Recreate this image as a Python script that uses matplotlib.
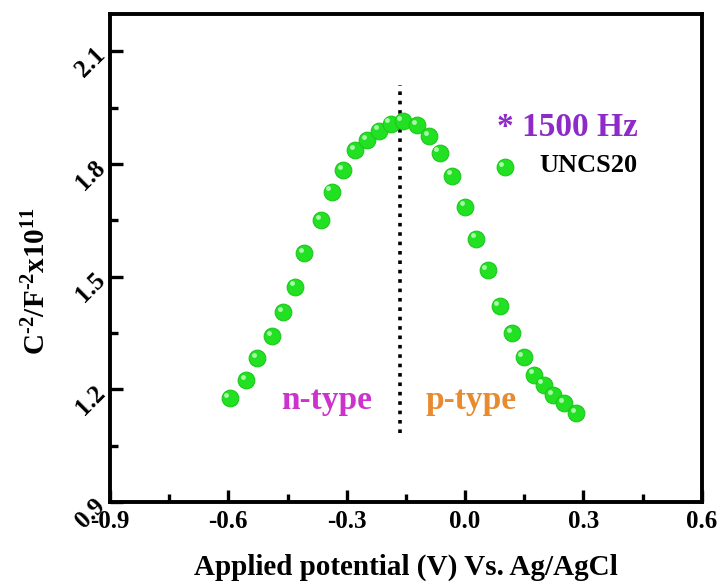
import matplotlib
matplotlib.use("Agg")
import matplotlib.pyplot as plt
import matplotlib.transforms as mtransforms
from matplotlib.ticker import MultipleLocator

# Mott-Schottky data
potential = [-0.596, -0.555, -0.527, -0.489, -0.461, -0.431, -0.408, -0.365, -0.338, -0.309,
             -0.279, -0.248, -0.218, -0.188, -0.158, -0.121, -0.091, -0.064, -0.032, 0.000,
             0.029, 0.058, 0.088, 0.120, 0.149, 0.175, 0.200, 0.223, 0.251, 0.282]
inv_c2 = [1.177, 1.225, 1.283, 1.341, 1.405, 1.473, 1.563, 1.650, 1.726, 1.783,
          1.837, 1.863, 1.889, 1.907, 1.914, 1.903, 1.874, 1.830, 1.769, 1.687,
          1.601, 1.517, 1.421, 1.350, 1.286, 1.239, 1.212, 1.185, 1.163, 1.137]
flatband_v = -0.165
divider_y = [1.084, 2.012]
legend_pt = (0.101, 1.791)

x_ticks = [-0.9, -0.6, -0.3, 0.0, 0.3, 0.6]
y_ticks = [0.9, 1.2, 1.5, 1.8, 2.1]

plt.rcParams["font.family"] = ["Liberation Serif", "DejaVu Serif"]
plt.rcParams["font.weight"] = "bold"
plt.rcParams["mathtext.fontset"] = "custom"
plt.rcParams["mathtext.rm"] = "Liberation Serif:bold"
plt.rcParams["mathtext.it"] = "Liberation Serif:bold"
plt.rcParams["mathtext.bf"] = "Liberation Serif:bold"

GREEN = "#22e022"

fig = plt.figure(figsize=(7.19, 5.81), dpi=100)
ax = fig.add_axes([0.153, 0.136, 0.823, 0.840])


def spheres(xs, ys):
    # base ball plus a soft highlight to mimic the shaded spheres
    ax.plot(xs, ys, "o", color=GREEN, markersize=12, markeredgecolor="#1cc81c",
            markeredgewidth=0.8, zorder=3)
    hl = ax.transData + mtransforms.ScaledTranslation(-2.5 / 72, 2.5 / 72, fig.dpi_scale_trans)
    ax.plot(xs, ys, "o", color="#b6ffb6", markersize=3.5, markeredgewidth=0,
            alpha=0.9, transform=hl, zorder=4)


ax.plot([flatband_v, flatband_v], divider_y, linestyle=(0, (1, 1.6)), color="black",
        linewidth=2.6, zorder=2)
spheres(potential, inv_c2)
spheres([legend_pt[0]], [legend_pt[1]])

ax.text(0.438, 1.897, "* 1500 Hz", color="#8e2bc8", fontsize=24, fontweight="bold",
        ha="right", va="center")
ax.text(0.438, 1.796, "UNCS20", color="black", fontsize=19, fontweight="bold",
        ha="right", va="center")
ax.text(-0.350, 1.170, "n-type", color="#cc33cc", fontsize=24, fontweight="bold",
        ha="center", va="center")
ax.text(0.015, 1.170, "p-type", color="#e88a2e", fontsize=24, fontweight="bold",
        ha="center", va="center")

ax.set_xlim(-0.9, 0.6)
ax.set_ylim(0.9, 2.2)
ax.set_xticks(x_ticks)
ax.set_yticks(y_ticks)
ax.set_xticklabels([f"{v:.1f}" for v in x_ticks])
ax.set_yticklabels([f"{v:.1f}" for v in y_ticks], rotation=45, ha="right", va="center",
                   rotation_mode="anchor")
ax.xaxis.set_minor_locator(MultipleLocator(0.15))
ax.yaxis.set_minor_locator(MultipleLocator(0.15))
ax.tick_params(which="both", direction="in", width=2.4, labelsize=18, top=False, right=False)
ax.tick_params(which="major", length=9, pad=6)
ax.tick_params(which="minor", length=6)
for s in ax.spines.values():
    s.set_linewidth(2.8)

ax.set_xlabel("Applied potential (V) Vs. Ag/AgCl", fontsize=21, fontweight="bold", labelpad=15)
ax.set_ylabel(r"C$^{\text{-2}}$/F$^{\text{-2}}$x10$^{\text{11}}$", fontsize=21,
              fontweight="bold")
ax.yaxis.set_label_coords(-0.10, 0.453)

fig.savefig("out.png", dpi=100)
